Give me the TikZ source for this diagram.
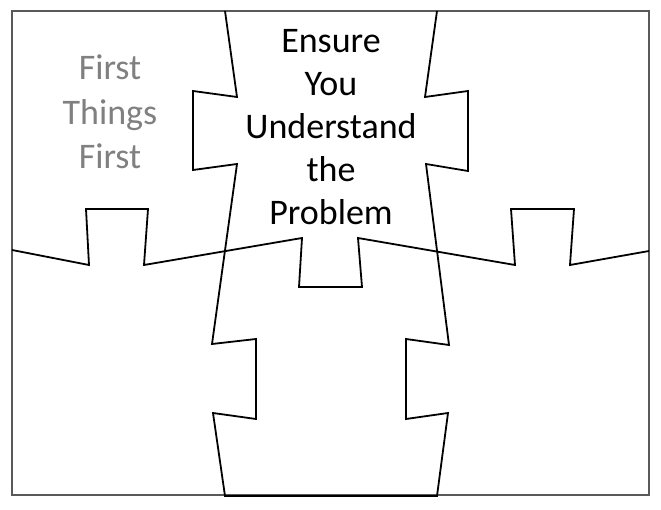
\documentclass[tikz,border=0pt]{standalone}
\usepackage{fontspec}
\setmainfont{Carlito}
\usepackage{tikz}
\tikzstyle{every node}=[inner sep=0pt, align=center, font=\fontsize{36}{43}\selectfont]
\tikzset{seam/.style={line width=1.8pt, line join=miter},
  frame/.style={draw=black!65, line width=1.5pt},
  greytext/.style={text=black!50, font=\fontsize{36}{44.5}\selectfont}}

\begin{document}
\begin{tikzpicture}[x=1pt,y=-1pt]
    \useasboundingbox (0,0) rectangle (661,510);
    \draw[frame] (12,11) rectangle (649,495);
    \draw[seam] (225,11) -- (237,97) -- (193,91) -- (193,170) -- (237,164) -- (212,344) -- (256,339) -- (256,419) -- (213,413) -- (225,496)
      -- (437,496) -- (448,413) -- (406,419) -- (406,339) -- (449,345) -- (426,164) -- (468,171) -- (468,91) -- (425,97) -- (437,11);
    \draw[seam] (12,250) -- (89,265) -- (86,209) -- (148,209) -- (144,265) -- (302,238) -- (299,287) -- (362,287) -- (358,238)
      -- (515,265) -- (511,209) -- (574,209) -- (570,265) -- (649,251);
    \node[greytext, anchor=north] (first) at (110,55) {First\\Things\\First};
    \node[anchor=north] (ensure) at (331,29) {Ensure\\You\\Understand\\the\\Problem};
  \end{tikzpicture}
\end{document}
